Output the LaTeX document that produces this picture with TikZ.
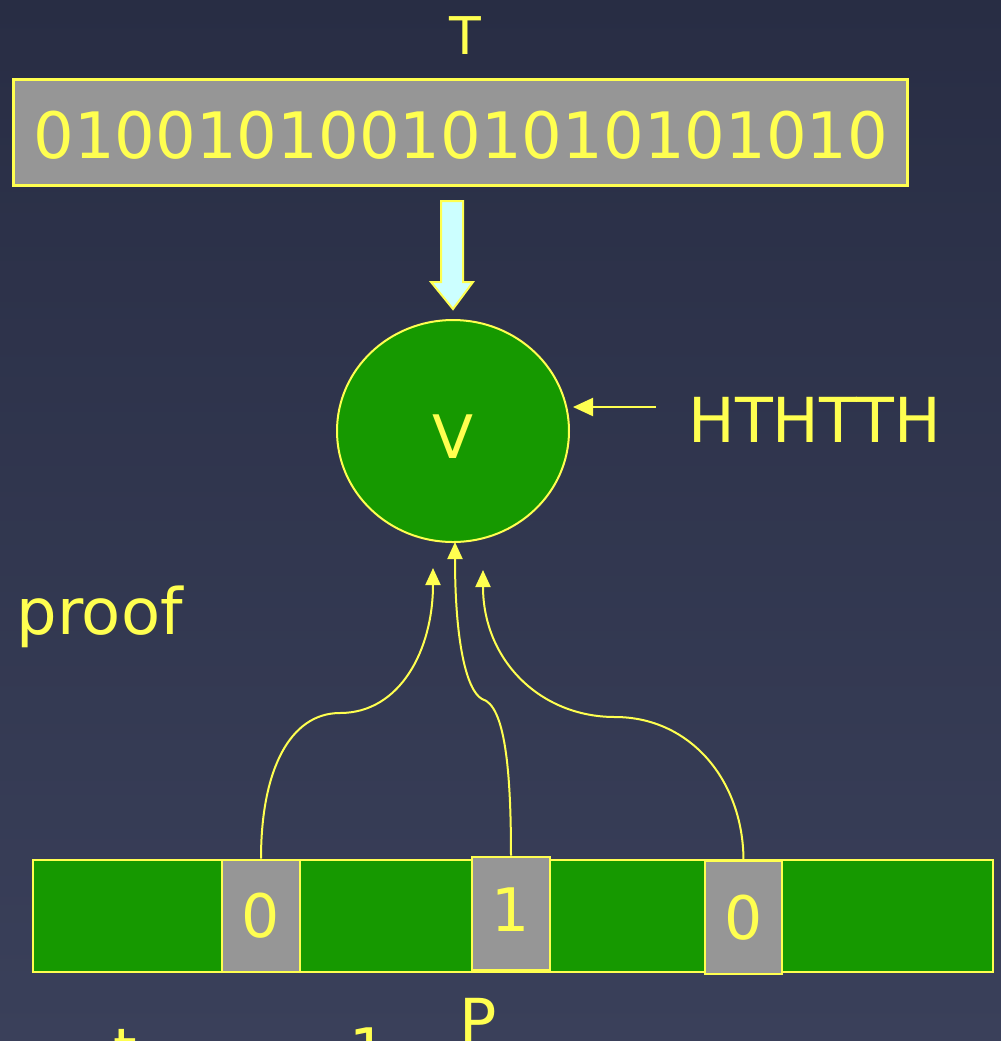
\documentclass[tikz,border=0pt]{standalone}
\usepackage{fontspec}
\setmainfont{DejaVu Sans}
\usetikzlibrary{arrows.meta,shapes.geometric}
\definecolor{ylw}{RGB}{255,255,80}
\definecolor{gry}{RGB}{150,150,150}
\definecolor{grn}{RGB}{22,153,0}
\definecolor{cyn}{RGB}{204,255,255}
\definecolor{bgtop}{RGB}{40,45,68}
\definecolor{bgbot}{RGB}{58,64,90}
\begin{document}
\begin{tikzpicture}[x=0.5pt,y=-0.5pt,
  txt/.style={text=ylw,font=\fontsize{30}{36}\selectfont,inner sep=0pt},
  graybox/.style={draw=ylw,line width=1.3pt,fill=gry,inner sep=0pt},
  conn/.style={draw=ylw,line width=1pt,-{Triangle[width=7.5pt,length=8.5pt]}}]
\shade[top color=bgtop,bottom color=bgbot] (0,0) rectangle (1001,1041);
\useasboundingbox (0,0) rectangle (1001,1041);
% T label and string box
\node[txt,font=\fontsize{26}{30}\selectfont] (tl) at (465,36) {T};
\node[graybox,line width=1.5pt,minimum width=447pt,minimum height=53pt] (tbox) at (460,132) {};
\node[txt,font=\fontsize{32}{38}\selectfont] (tstr) at (461,135) {010010100101010101010};
% block arrow
\draw[ylw,fill=cyn,line width=1pt] (441,201) -- (463,201) -- (463,282) -- (473,282) -- (453,309) -- (431,282) -- (441,282) -- cycle;
% V circle
\node[draw=ylw,line width=1pt,fill=grn,ellipse,minimum width=116pt,minimum height=111pt,inner sep=0pt] (v) at (453,431) {};
\node[txt] (vl) at (453,437) {V};
% HTHTTH
\node[txt,anchor=west,font=\fontsize{31}{36}\selectfont] (h) at (688,420) {HTHTTH};
\coordinate (hs) at (656,407);
\draw[conn,-{Triangle[width=9pt,length=10pt]}] (hs) -- (573,407);
% proof
\node[txt,anchor=west,font=\fontsize{32}{38}\selectfont] (pf) at (16,617) {proof};
% bottom strip
\node[draw=ylw,line width=1pt,fill=grn,minimum width=480pt,minimum height=56pt,inner sep=0pt] (strip) at (513,916) {};
\node[graybox,minimum width=39pt,minimum height=56pt] (c1) at (261,916) {};
\node[graybox,minimum width=39pt,minimum height=56.5pt] (c2) at (511,913.5) {};
\node[graybox,minimum width=38.5pt,minimum height=56.5pt] (c3) at (743.5,917.5) {};
\node[txt,font=\fontsize{30}{34}\selectfont] at (c1) {0};
\node[txt,font=\fontsize{30}{34}\selectfont] at ([yshift=2pt]c2) {1};
\node[txt,font=\fontsize{30}{34}\selectfont] at (c3) {0};
% curves
\draw[conn] (c1.north) .. controls (261,770) and (290,713) .. (340,713) .. controls (400,713) and (433,650) .. (433,568);
\draw[conn] (c2.north) .. controls (511,770) and (505,705) .. (482,699) .. controls (466,690) and (455,640) .. (455,542);
\draw[conn] (c3.north) .. controls (743,780) and (690,717) .. (615,717) .. controls (540,717) and (483,660) .. (483,570);
% bottom partial text (cut off by the page edge, as in the reference)
\node[txt,anchor=base,font=\fontsize{31}{36}\selectfont] (pl) at (478,1043) {P};
\node[txt,anchor=north,font=\fontsize{30}{36}\selectfont] (t2) at (125,1029) {t};
\node[txt,anchor=north,font=\fontsize{30}{36}\selectfont] (o2) at (369,1027) {1};
\end{tikzpicture}
\end{document}
